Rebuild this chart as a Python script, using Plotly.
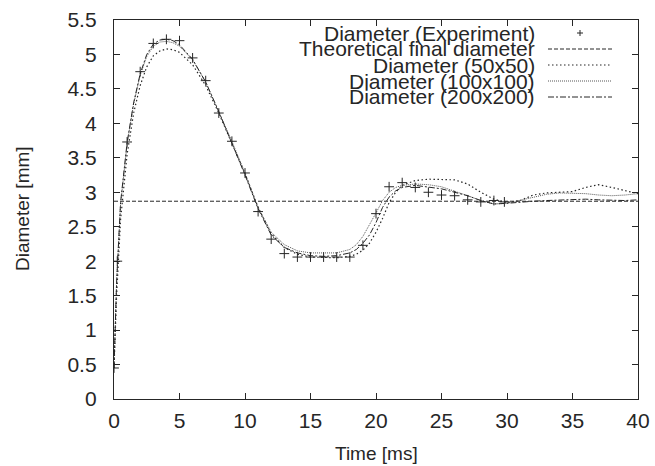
import plotly.graph_objects as go

# ---------------- data ----------------
t_exp = [0, 0.25, 1, 2, 3, 4, 5, 6, 7, 8, 9, 10, 11, 12, 13, 14, 15, 16, 17, 18,
         19, 20, 21, 22, 23, 24, 25, 26, 27, 28, 29, 29.8]
d_exp = [0.45, 2.0, 3.73, 4.75, 5.16, 5.22, 5.2, 4.95, 4.62, 4.15, 3.74, 3.28, 2.72,
         2.32, 2.11, 2.06, 2.06, 2.06, 2.06, 2.06, 2.23, 2.69, 3.08, 3.14, 3.07, 3.0,
         2.96, 2.95, 2.89, 2.86, 2.88, 2.86]

t_sim = [0, 0.2, 0.5, 1, 1.5, 2, 2.5, 3, 3.5, 4, 4.5, 5, 6, 7, 8, 9, 10, 11, 12, 13,
         14, 15, 16, 17, 18, 18.5, 19, 19.5, 20, 20.5, 21, 21.5, 22, 23, 24, 25, 26,
         27, 28, 29, 30, 31, 32, 33, 34, 35, 36, 37, 38, 39, 40]
d_50 = [0.45, 1.5, 2.6, 3.55, 4.15, 4.55, 4.82, 4.98, 5.05, 5.08, 5.07, 5.03, 4.85,
        4.55, 4.15, 3.72, 3.27, 2.78, 2.4, 2.2, 2.1, 2.06, 2.05, 2.05, 2.07, 2.1, 2.16,
        2.26, 2.42, 2.62, 2.85, 3.0, 3.1, 3.17, 3.19, 3.19, 3.18, 3.12, 3.0, 2.9, 2.85,
        2.88, 2.96, 2.99, 3.0, 3.01, 3.07, 3.11, 3.07, 3.02, 2.98]
d_100 = [0.45, 1.7, 2.82, 3.7, 4.28, 4.7, 4.97, 5.12, 5.18, 5.19, 5.17, 5.12, 4.92,
         4.6, 4.17, 3.74, 3.28, 2.78, 2.42, 2.24, 2.15, 2.12, 2.12, 2.12, 2.17, 2.24,
         2.36, 2.52, 2.7, 2.88, 3.0, 3.07, 3.1, 3.12, 3.11, 3.08, 3.02, 2.95, 2.88,
         2.83, 2.84, 2.88, 2.93, 2.97, 2.99, 2.99, 2.98, 2.96, 2.95, 2.96, 2.98]
d_200 = [0.45, 1.7, 2.85, 3.72, 4.3, 4.72, 5.0, 5.15, 5.21, 5.22, 5.2, 5.14, 4.93,
         4.6, 4.17, 3.72, 3.25, 2.76, 2.38, 2.2, 2.12, 2.08, 2.07, 2.08, 2.12, 2.17,
         2.26, 2.38, 2.56, 2.78, 2.93, 3.02, 3.07, 3.1, 3.08, 3.05, 3.0, 2.95, 2.88,
         2.83, 2.84, 2.86, 2.87, 2.88, 2.89, 2.9, 2.9, 2.89, 2.88, 2.88, 2.89]
d_theory = 2.87

x_ticks = [0, 5, 10, 15, 20, 25, 30, 35, 40]
y_ticks = [0, 0.5, 1, 1.5, 2, 2.5, 3, 3.5, 4, 4.5, 5, 5.5]
y_tick_text = ["0", "0.5", "1", "1.5", "2", "2.5", "3", "3.5", "4", "4.5", "5", "5.5"]

legend_names = ["Diameter (Experiment)", "Theoretical final diameter",
                "Diameter (50x50)", "Diameter (100x100)", "Diameter (200x200)"]
x_title = "Time [ms]"
y_title = "Diameter [mm]"

# ---------------- layout constants ----------------
W, H = 655, 466
L, R, T, B = 114, 17, 20, 67
PW, PH = W - L - R, H - T - B
FONT = "Liberation Sans, Arial, Helvetica, sans-serif"
INK = "#262626"

def px(xp):
    return (xp - L) / PW

def py(yp):
    return (H - B - yp) / PH

styles = {
    "theory": dict(color=INK, width=1, dash="4px,2px"),
    "50": dict(color=INK, width=1.2, dash="1.5px,2.5px"),
    "100": dict(color="#555555", width=1, dash="1px,1px"),
    "200": dict(color=INK, width=1, dash="6px,2px,2px,2px"),
}

fig = go.Figure()
fig.add_trace(go.Scatter(x=t_sim, y=d_50, mode="lines", line=styles["50"],
                         name=legend_names[2], showlegend=False))
fig.add_trace(go.Scatter(x=t_sim, y=d_100, mode="lines", line=styles["100"],
                         name=legend_names[3], showlegend=False))
fig.add_trace(go.Scatter(x=t_sim, y=d_200, mode="lines", line=styles["200"],
                         name=legend_names[4], showlegend=False))
fig.add_trace(go.Scatter(x=[0, 40], y=[d_theory, d_theory], mode="lines",
                         line=styles["theory"], name=legend_names[1], showlegend=False))
fig.add_trace(go.Scatter(x=t_exp, y=d_exp, mode="markers",
                         marker=dict(symbol="cross-thin", size=7,
                                     line=dict(color=INK, width=1)),
                         name=legend_names[0], showlegend=False))

# ---------------- manual gnuplot-style key ----------------
rows_y = [33, 49, 65, 81, 97]
text_right = 537
s0, s1 = 548, 612
annotations = []
shapes = []
for name, ry in zip(legend_names, rows_y):
    annotations.append(dict(x=px(text_right), y=py(ry), xref="paper", yref="paper",
                            text=name, showarrow=False, xanchor="right",
                            yanchor="middle", font=dict(family=FONT, size=21, color=INK)))
keys = [None, "theory", "50", "100", "200"]
for k, ry in zip(keys, rows_y):
    if k is None:
        cx = (s0 + s1) / 2
        shapes.append(dict(type="line", xref="paper", yref="paper",
                           x0=px(cx - 3), x1=px(cx + 3), y0=py(ry), y1=py(ry),
                           line=dict(color=INK, width=1)))
        shapes.append(dict(type="line", xref="paper", yref="paper",
                           x0=px(cx), x1=px(cx), y0=py(ry - 3), y1=py(ry + 3),
                           line=dict(color=INK, width=1)))
    else:
        shapes.append(dict(type="line", xref="paper", yref="paper",
                           x0=px(s0), x1=px(s1), y0=py(ry), y1=py(ry),
                           line=styles[k]))

# axis titles
annotations.append(dict(x=px((L + W - R) / 2), y=py(453), xref="paper", yref="paper",
                        text=x_title, showarrow=False, xanchor="center", yanchor="middle",
                        font=dict(family=FONT, size=19, color=INK)))
annotations.append(dict(x=px(22), y=py(209), xref="paper", yref="paper",
                        text=y_title, showarrow=False, xanchor="center", yanchor="middle",
                        textangle=-90, font=dict(family=FONT, size=19, color=INK)))

axis_common = dict(showgrid=False, zeroline=False, showline=True, linecolor=INK,
                   linewidth=1.3, mirror="allticks", ticks="inside", ticklen=6,
                   tickwidth=1, tickcolor=INK, automargin=False,
                   tickfont=dict(family=FONT, size=21, color=INK))

fig.update_layout(
    width=W, height=H,
    margin=dict(l=L, r=R, t=T, b=B, autoexpand=False),
    paper_bgcolor="white", plot_bgcolor="white",
    showlegend=False,
    xaxis=dict(range=[0, 40], tickvals=x_ticks, ticktext=[str(v) for v in x_ticks],
               ticklabelstandoff=3, **axis_common),
    yaxis=dict(range=[0, 5.5], tickvals=y_ticks, ticktext=y_tick_text,
               ticklabelstandoff=12, **axis_common),
    annotations=annotations,
    shapes=shapes,
)

fig.write_html(
    "out.html",
    config={"displayModeBar": False},
    post_script="document.body.style.margin='0';document.body.style.padding='0';",
)
